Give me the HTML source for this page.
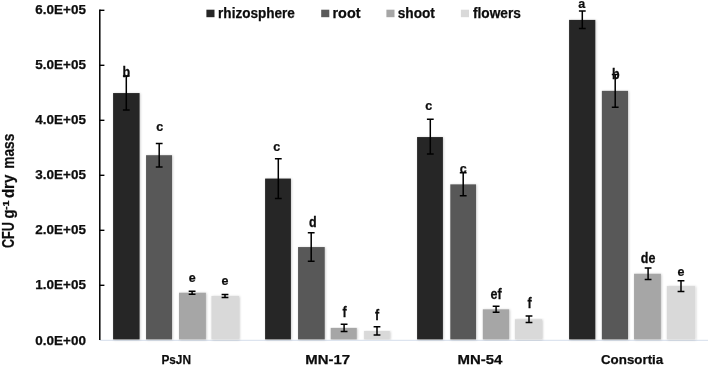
<!DOCTYPE html>
<html lang="en"><head><meta charset="utf-8"><title>CFU chart</title>
<style>
html,body{margin:0;padding:0;background:#fff;}
svg{display:block;}
text{font-family:"Liberation Sans",sans-serif;font-weight:bold;fill:#0d0d0d;stroke:#0d0d0d;stroke-width:0.25px;}
</style></head><body>
<svg width="708" height="366" viewBox="0 0 708 366">
<defs><filter id="sh" x="-20%" y="-5%" width="150%" height="110%"><feDropShadow dx="0.7" dy="0.4" stdDeviation="0.8" flood-color="#000" flood-opacity="0.22"/></filter></defs>
<rect width="708" height="366" fill="#fff"/>

<line x1="99.8" y1="340.3" x2="708" y2="340.3" stroke="#d5deeb" stroke-width="1"/>
<rect x="113.10" y="93.05" width="26.5" height="246.35" fill="#262626" filter="url(#sh)"/>
<rect x="146.05" y="155.20" width="26.0" height="184.20" fill="#595959" filter="url(#sh)"/>
<rect x="179.00" y="292.70" width="26.9" height="46.70" fill="#a6a6a6" filter="url(#sh)"/>
<rect x="211.40" y="296.00" width="27.6" height="43.40" fill="#d9d9d9" filter="url(#sh)"/>
<rect x="265.10" y="178.57" width="25.8" height="160.82" fill="#262626" filter="url(#sh)"/>
<rect x="298.05" y="247.05" width="26.7" height="92.35" fill="#595959" filter="url(#sh)"/>
<rect x="330.70" y="327.90" width="26.1" height="11.50" fill="#a6a6a6" filter="url(#sh)"/>
<rect x="364.10" y="330.93" width="25.7" height="8.47" fill="#d9d9d9" filter="url(#sh)"/>
<rect x="417.10" y="137.05" width="25.8" height="202.35" fill="#262626" filter="url(#sh)"/>
<rect x="450.30" y="184.35" width="25.75" height="155.05" fill="#595959" filter="url(#sh)"/>
<rect x="482.80" y="309.31" width="26.4" height="30.09" fill="#a6a6a6" filter="url(#sh)"/>
<rect x="514.90" y="319.21" width="27.1" height="20.19" fill="#d9d9d9" filter="url(#sh)"/>
<rect x="569.10" y="19.90" width="26.2" height="319.50" fill="#262626" filter="url(#sh)"/>
<rect x="601.85" y="90.85" width="26.2" height="248.55" fill="#595959" filter="url(#sh)"/>
<rect x="634.05" y="273.73" width="26.85" height="65.67" fill="#a6a6a6" filter="url(#sh)"/>
<rect x="666.80" y="286.10" width="28.4" height="53.30" fill="#d9d9d9" filter="url(#sh)"/>
<line x1="99.8" y1="9.4" x2="99.8" y2="340" stroke="#000" stroke-width="1.5"/>
<text x="35.3" y="344.55" font-size="12.4" textLength="50.6" lengthAdjust="spacingAndGlyphs">0.0E+00</text>
<line x1="99.8" y1="285.30" x2="104.39999999999999" y2="285.30" stroke="#000" stroke-width="1.4"/>
<text x="35.3" y="289.45" font-size="12.4" textLength="50.6" lengthAdjust="spacingAndGlyphs">1.0E+05</text>
<line x1="99.8" y1="230.30" x2="104.39999999999999" y2="230.30" stroke="#000" stroke-width="1.4"/>
<text x="35.3" y="234.35" font-size="12.4" textLength="50.6" lengthAdjust="spacingAndGlyphs">2.0E+05</text>
<line x1="99.8" y1="175.30" x2="104.39999999999999" y2="175.30" stroke="#000" stroke-width="1.4"/>
<text x="35.3" y="179.25" font-size="12.4" textLength="50.6" lengthAdjust="spacingAndGlyphs">3.0E+05</text>
<line x1="99.8" y1="120.30" x2="104.39999999999999" y2="120.30" stroke="#000" stroke-width="1.4"/>
<text x="35.3" y="124.15" font-size="12.4" textLength="50.6" lengthAdjust="spacingAndGlyphs">4.0E+05</text>
<line x1="99.8" y1="65.30" x2="104.39999999999999" y2="65.30" stroke="#000" stroke-width="1.4"/>
<text x="35.3" y="69.05" font-size="12.4" textLength="50.6" lengthAdjust="spacingAndGlyphs">5.0E+05</text>
<line x1="99.8" y1="10.30" x2="104.39999999999999" y2="10.30" stroke="#000" stroke-width="1.4"/>
<text x="35.3" y="13.95" font-size="12.4" textLength="50.6" lengthAdjust="spacingAndGlyphs">6.0E+05</text>
<path d="M126.30 76.05V110.05M122.90 76.05h6.8M122.90 110.05h6.8" stroke="#000" stroke-width="1.5" fill="none"/>
<text transform="translate(126.30,76.7) scale(0.94,1.07)" font-size="13.3" text-anchor="middle">b</text>
<path d="M159.20 143.50V166.90M155.80 143.50h6.8M155.80 166.90h6.8" stroke="#000" stroke-width="1.5" fill="none"/>
<text transform="translate(159.70,131.4) scale(0.94,1)" font-size="13.3" text-anchor="middle">c</text>
<path d="M192.10 291.20V294.20M188.70 291.20h6.8M188.70 294.20h6.8" stroke="#000" stroke-width="1.5" fill="none"/>
<text transform="translate(192.10,281.8) scale(0.94,1)" font-size="13.3" text-anchor="middle">e</text>
<path d="M225.00 294.50V297.50M221.60 294.50h6.8M221.60 297.50h6.8" stroke="#000" stroke-width="1.5" fill="none"/>
<text transform="translate(225.00,285.2) scale(0.94,1)" font-size="13.3" text-anchor="middle">e</text>
<path d="M278.30 158.77V198.38M274.90 158.77h6.8M274.90 198.38h6.8" stroke="#000" stroke-width="1.5" fill="none"/>
<text transform="translate(276.80,150.9) scale(0.94,1)" font-size="13.3" text-anchor="middle">c</text>
<path d="M311.20 232.85V261.25M307.80 232.85h6.8M307.80 261.25h6.8" stroke="#000" stroke-width="1.5" fill="none"/>
<text transform="translate(312.80,226.7) scale(0.94,1.07)" font-size="13.3" text-anchor="middle">d</text>
<path d="M344.10 324.20V331.60M340.70 324.20h6.8M340.70 331.60h6.8" stroke="#000" stroke-width="1.5" fill="none"/>
<text transform="translate(344.60,316.9) scale(0.94,1.07)" font-size="13.3" text-anchor="middle">f</text>
<path d="M377.00 326.82V335.03M373.60 326.82h6.8M373.60 335.03h6.8" stroke="#000" stroke-width="1.5" fill="none"/>
<text transform="translate(377.00,320.2) scale(0.94,1.07)" font-size="13.3" text-anchor="middle">f</text>
<path d="M430.30 119.25V154.05M426.90 119.25h6.8M426.90 154.05h6.8" stroke="#000" stroke-width="1.5" fill="none"/>
<text transform="translate(428.80,110.4) scale(0.94,1)" font-size="13.3" text-anchor="middle">c</text>
<path d="M463.20 172.85V195.85M459.80 172.85h6.8M459.80 195.85h6.8" stroke="#000" stroke-width="1.5" fill="none"/>
<text transform="translate(463.20,173.4) scale(0.94,1)" font-size="13.3" text-anchor="middle">c</text>
<path d="M496.10 306.31V312.31M492.70 306.31h6.8M492.70 312.31h6.8" stroke="#000" stroke-width="1.5" fill="none"/>
<text transform="translate(496.10,298.8) scale(0.94,1.07)" font-size="13.3" text-anchor="middle">ef</text>
<path d="M529.00 315.91V322.51M525.60 315.91h6.8M525.60 322.51h6.8" stroke="#000" stroke-width="1.5" fill="none"/>
<text transform="translate(529.50,307.6) scale(0.94,1.07)" font-size="13.3" text-anchor="middle">f</text>
<path d="M582.30 10.90V28.50M578.90 10.90h6.8M578.90 28.50h6.8" stroke="#000" stroke-width="1.5" fill="none"/>
<text transform="translate(581.80,8.0) scale(0.94,1)" font-size="13.3" text-anchor="middle">a</text>
<path d="M615.20 74.45V107.25M611.80 74.45h6.8M611.80 107.25h6.8" stroke="#000" stroke-width="1.5" fill="none"/>
<text transform="translate(615.70,79.4) scale(0.94,1.07)" font-size="13.3" text-anchor="middle">b</text>
<path d="M648.10 268.03V279.43M644.70 268.03h6.8M644.70 279.43h6.8" stroke="#000" stroke-width="1.5" fill="none"/>
<text transform="translate(648.10,263.2) scale(0.94,1.07)" font-size="13.3" text-anchor="middle">de</text>
<path d="M681.00 280.70V291.50M677.60 280.70h6.8M677.60 291.50h6.8" stroke="#000" stroke-width="1.5" fill="none"/>
<text transform="translate(681.00,275.6) scale(0.94,1)" font-size="13.3" text-anchor="middle">e</text>
<text x="161.4" y="364.4" font-size="13.5" textLength="29.6" lengthAdjust="spacingAndGlyphs">PsJN</text>
<text x="305.3" y="364.4" font-size="13.5" textLength="44.8" lengthAdjust="spacingAndGlyphs">MN-17</text>
<text x="457.5" y="364.4" font-size="13.5" textLength="44.9" lengthAdjust="spacingAndGlyphs">MN-54</text>
<text x="601.0" y="364.4" font-size="13.5" textLength="62.2" lengthAdjust="spacingAndGlyphs">Consortia</text>
<rect x="206.4" y="9.7" width="8.1" height="7.5" fill="#262626"/>
<text x="218.1" y="17.5" font-size="14.0" textLength="76.8" lengthAdjust="spacingAndGlyphs">rhizosphere</text>
<rect x="321.2" y="9.7" width="8.1" height="7.5" fill="#595959"/>
<text x="332.5" y="17.5" font-size="14.0" textLength="28.0" lengthAdjust="spacingAndGlyphs">root</text>
<rect x="386.4" y="9.7" width="8.1" height="7.5" fill="#a6a6a6"/>
<text x="397.7" y="17.5" font-size="14.0" textLength="37.2" lengthAdjust="spacingAndGlyphs">shoot</text>
<rect x="460.9" y="9.7" width="8.1" height="7.5" fill="#d9d9d9"/>
<text x="473.0" y="17.5" font-size="14.0" textLength="47.8" lengthAdjust="spacingAndGlyphs">flowers</text>
<text transform="translate(13.8,248.1) rotate(-90)" font-size="16.7"><tspan x="0.0" dy="0.0" font-size="16.7" textLength="25.8" lengthAdjust="spacingAndGlyphs">CFU</tspan> <tspan x="29.6" dy="0.0" font-size="16.7" textLength="9.1" lengthAdjust="spacingAndGlyphs">g</tspan><tspan x="38.1" dy="-5.2" font-size="9.3" textLength="9.6" lengthAdjust="spacingAndGlyphs">-1</tspan> <tspan x="50.0" dy="5.2" font-size="16.7" textLength="23.4" lengthAdjust="spacingAndGlyphs">dry</tspan> <tspan x="79.3" dy="0.0" font-size="16.7" textLength="35.1" lengthAdjust="spacingAndGlyphs">mass</tspan></text>
</svg></body></html>
